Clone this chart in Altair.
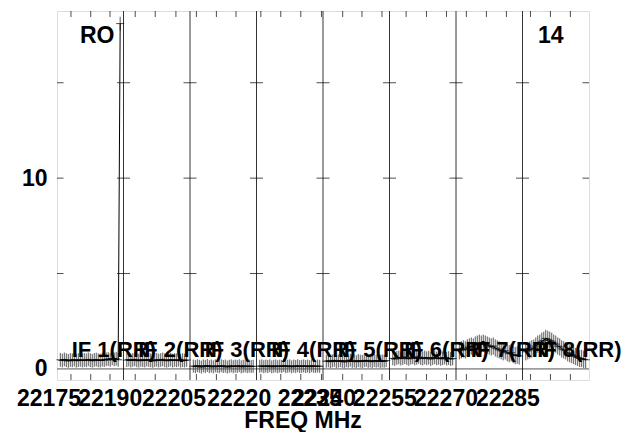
import altair as alt
import pandas as pd

# ---------------- data ----------------
if_names = ["IF 1(RR)", "IF 2(RR)", "IF 3(RR)", "IF 4(RR)",
            "IF 5(RR)", "IF 6(RR)", "IF 7(RR)", "IF 8(RR)"]

if1 = [0.48, 0.44, 0.50, 0.46, 0.42, 0.47, 0.45, 0.49, 0.43, 0.46, 0.48, 0.44, 0.47, 0.45, 0.50, 0.46,
       0.43, 0.47, 0.49, 0.45, 0.44, 0.48, 0.46, 0.50, 0.52, 0.47, 0.55, 0.50, 0.53, 0.48, 18.1]
if2 = [0.46, 0.49, 0.44, 0.47, 0.50, 0.45, 0.43, 0.48, 0.46, 0.44, 0.49, 0.47, 0.45, 0.42, 0.46, 0.48,
       0.44, 0.47, 0.50, 0.45, 0.43, 0.46, 0.49, 0.44, 0.47, 0.45, 0.48, 0.43, 0.46, 0.44, 0.47]
if3 = [0.15, 0.12, 0.17, 0.14, 0.10, 0.16, 0.13, 0.18, 0.12, 0.15, 0.11, 0.16, 0.14, 0.12, 0.17, 0.13,
       0.15, 0.10, 0.14, 0.16, 0.12, 0.15, 0.13, 0.17, 0.11, 0.14, 0.16, 0.12, 0.15, 0.13, 0.14]
if4 = [0.14, 0.16, 0.12, 0.15, 0.13, 0.17, 0.11, 0.14, 0.16, 0.12, 0.15, 0.13, 0.18, 0.12, 0.14, 0.16,
       0.11, 0.15, 0.13, 0.17, 0.12, 0.14, 0.16, 0.13, 0.15, 0.12, 0.17, 0.14, 0.13, 0.15, 0.14]
if5 = [0.40, 0.43, 0.38, 0.42, 0.45, 0.39, 0.41, 0.44, 0.40, 0.37, 0.43, 0.41, 0.46, 0.40, 0.42, 0.38,
       0.44, 0.41, 0.39, 0.43, 0.45, 0.40, 0.42, 0.38, 0.44, 0.41, 0.43, 0.39, 0.42, 0.40, 0.44]
if6 = [0.55, 0.52, 0.58, 0.60, 0.54, 0.57, 0.62, 0.56, 0.53, 0.59, 0.61, 0.55, 0.58, 0.63, 0.57, 0.54,
       0.60, 0.56, 0.59, 0.52, 0.57, 0.61, 0.55, 0.58, 0.53, 0.56, 0.60, 0.54, 0.57, 0.52, 0.55]
if7 = [0.95, 1.00, 1.05, 1.00, 1.10, 1.15, 1.20, 1.15, 1.25, 1.30, 1.35, 1.30, 1.35, 1.30, 1.25, 1.20,
       1.15, 1.20, 1.10, 1.05, 1.00, 0.95, 0.90, 0.95, 0.85, 0.80, 0.85, 0.75, 0.70, 0.72, 0.68]
if8 = [0.90, 0.95, 1.00, 1.05, 1.10, 1.20, 1.30, 1.35, 1.45, 1.50, 1.60, 1.55, 1.50, 1.45, 1.35, 1.30,
       1.20, 1.15, 1.05, 1.00, 0.95, 0.85, 0.80, 0.75, 0.70, 0.65, 0.60, 0.55, 0.55, 0.50, 0.48]
if_values = [if1, if2, if3, if4, if5, if6, if7, if8]
if_errors = [0.36, 0.36, 0.34, 0.34, 0.34, 0.36, 0.45, 0.45]

# channel placement inside each IF panel (panel units, 0..1)
ch_first = 0.05
ch_step = 0.03

# x tick positions inside each panel (panel units)
tick_offsets = [[0.21, 0.507, 0.797], [0.176, 0.477, 0.788], [0.096, 0.397, 0.692],
                [0.065, 0.365, 0.666, 0.977], [0.296, 0.586, 0.887], [0.25, 0.556, 0.857],
                [0.156, 0.457, 0.758], [0.12, 0.42, 0.72]]

# x tick labels (frequency, MHz) and their positions (panel units)
xlab_txt = ["22175", "22190", "22205", "22220", "22235", "22240", "22255", "22270", "22285"]
xlab_pos = [-0.12, 0.80, 1.76, 2.74, 3.80, 4.015, 4.93, 5.85, 6.78]

y_ticks = [5, 10, 15]
y_labels = [0, 10]
y_min, y_max = -0.58, 18.76
x_min, x_max = 0, 8

label_left = 0.221      # IF label left edge inside its panel
label_base = 0.63       # IF label baseline (flux units)
corner_texts = ["RO", "14"]
corner_x = [0.346, 7.233]
corner_y = [17.09, 17.09]

# ---------------- tables ----------------
rows = []
for i, (vals, err) in enumerate(zip(if_values, if_errors)):
    for k, v in enumerate(vals):
        rows.append({"IF": if_names[i], "x": i + ch_first + k * ch_step,
                     "flux": v, "lo": v - err, "hi": v + err})
spec = pd.DataFrame(rows)

bounds = pd.DataFrame({"x": list(range(1, 8))})
yt = pd.DataFrame([{"x": b, "y": y} for b in range(0, 9) for y in y_ticks])
xt = pd.DataFrame([{"x": i + o} for i, offs in enumerate(tick_offsets) for o in offs])
xl = pd.DataFrame({"x": xlab_pos, "t": xlab_txt})
ifl = pd.DataFrame({"x": [i + label_left for i in range(8)], "y": [label_base] * 8, "t": if_names})
corner = pd.DataFrame({"x": corner_x, "y": corner_y, "t": corner_texts})

FONT = "Liberation Sans"
FS = 23
xs = alt.Scale(domain=[x_min, x_max], nice=False, zero=False)
ys = alt.Scale(domain=[y_min, y_max], nice=False, zero=False)

X = lambda f="x": alt.X(f"{f}:Q", scale=xs, axis=None)

base_axis_y = alt.Axis(values=y_labels, ticks=False, domain=False, grid=False,
                       labelFontSize=FS, labelFontWeight="bold", labelFont=FONT,
                       labelColor="black", labelPadding=10, title=None)

zero = alt.Chart(pd.DataFrame({"y": [0]})).mark_rule(color="#555", strokeWidth=1).encode(
    y=alt.Y("y:Q", scale=ys, axis=base_axis_y))

sep = alt.Chart(bounds).mark_rule(color="black", strokeWidth=0.8).encode(x=X())

ytick = alt.Chart(yt).mark_tick(orient="horizontal", size=13, thickness=1, color="black", clip=True).encode(
    x=X(), y=alt.Y("y:Q", scale=ys))

xtick_top = alt.Chart(xt).mark_tick(orient="vertical", size=12, thickness=1, color="black", clip=True).encode(
    x=X(), y=alt.datum(y_max, scale=ys))
xtick_bot = alt.Chart(xt).mark_tick(orient="vertical", size=12, thickness=1, color="black", clip=True).encode(
    x=X(), y=alt.datum(y_min, scale=ys))

line = alt.Chart(spec).mark_line(color="black", strokeWidth=1).encode(
    x=X(), y=alt.Y("flux:Q", scale=ys), detail="IF:N")
ebar = alt.Chart(spec).mark_rule(color="#444", strokeWidth=0.9).encode(
    x=X(), y=alt.Y("lo:Q", scale=ys), y2="hi:Q")
cross = alt.Chart(spec).mark_tick(orient="horizontal", size=8, thickness=1, color="black").encode(
    x=X(), y=alt.Y("flux:Q", scale=ys))

txt_style = dict(font=FONT, fontSize=FS, fontWeight="bold", color="black")
iflab = alt.Chart(ifl).mark_text(align="left", baseline="alphabetic", font=FONT, fontSize=22,
                                 fontWeight="bold", color="black").encode(
    x=X(), y=alt.Y("y:Q", scale=ys), text="t:N")
corner_lab = alt.Chart(corner).mark_text(align="left", baseline="alphabetic", **txt_style).encode(
    x=X(), y=alt.Y("y:Q", scale=ys), text="t:N")
xlab = alt.Chart(xl).mark_text(align="center", baseline="alphabetic", **txt_style).encode(
    x=X(), y=alt.value(395), text="t:N")
xtitle = alt.Chart(pd.DataFrame({"t": ["FREQ MHz"]})).mark_text(
    align="center", baseline="alphabetic", **txt_style).encode(
    x=alt.value(246), y=alt.value(417), text="t:N")

chart = alt.layer(zero, sep, ytick, xtick_top, xtick_bot, ebar, line, cross,
                  iflab, corner_lab, xlab, xtitle).properties(
    width=532, height=369,
    padding={"left": 49, "top": 3, "right": 32, "bottom": 52},
    autosize=alt.AutoSizeParams(type="none"),
).configure_view(stroke="black", strokeWidth=1).configure(background="white")

chart.save("out.html", embed_options={"renderer": "svg", "actions": False})
